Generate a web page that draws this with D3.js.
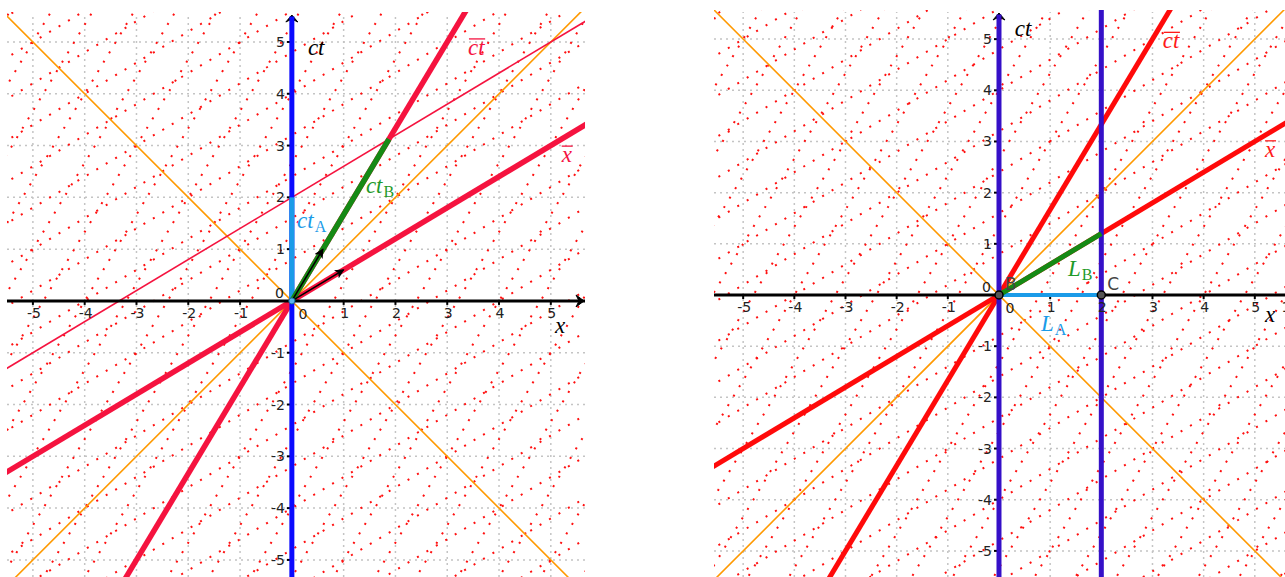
<!DOCTYPE html>
<html>
<head>
<meta charset="utf-8">
<script src="https://cdn.jsdelivr.net/npm/d3@7"></script>
<style>
  body { margin: 0; background: #fff; }
  svg { display: block; }
</style>
</head>
<body>
<svg id="chart" width="1285" height="577"></svg>
<script>
// values
const ticks = [-5, -4, -3, -2, -1, 1, 2, 3, 4, 5];
const beta = 0.6;               // slope of the x-bar axis
const primedUnit = 0.8;         // spacing of the moving-frame grid (1/gamma)
const primedLines = d3.range(-14, 15);
const cones = [1, -1];
const unitVectors = [[0.6, 1], [1, 0.6]];
const ctA = [[0, 0], [0, 2]];
const ctB = [[0, 0], [1.875, 3.125]];
const simultaneity = { through: [0, 2], slope: 0.6 };
const LA = [[0, 0], [2, 0]];
const LB = [[0, 0], [2, 1.2]];
const rods = [0, 2];
const events = [{ name: "B", x: 0, y: 0 }, { name: "C", x: 2, y: 0 }];

const svg = d3.select("#chart");
const far = 30;

function panel(id, box, xDom, yDom) {
  const x = d3.scaleLinear().domain(xDom).range([box.left, box.right]);
  const y = d3.scaleLinear().domain(yDom).range([box.bottom, box.top]);
  svg.append("clipPath").attr("id", "clip-" + id)
    .append("rect")
    .attr("x", box.left).attr("y", box.top - 2)
    .attr("width", box.right - box.left).attr("height", box.bottom - box.top + 2);
  const g = svg.append("g").attr("clip-path", `url(#clip-${id})`);

  const seg = (p, q, color, w, dash) => {
    const l = g.append("line")
      .attr("x1", x(p[0])).attr("y1", y(p[1]))
      .attr("x2", x(q[0])).attr("y2", y(q[1]))
      .attr("stroke", color).attr("stroke-width", w);
    if (dash) l.attr("stroke-dasharray", dash).attr("stroke-linecap", "butt");
    return l;
  };

  // gray unit grid
  ticks.forEach(t => {
    seg([t, yDom[0]], [t, yDom[1]], "#c4c4c4", 1.5, "2 4");
    seg([xDom[0], t], [xDom[1], t], "#c4c4c4", 1.5, "2 4");
  });

  // moving-frame grid, red dots
  primedLines.forEach(n => {
    const c = n * primedUnit;
    seg([-far, beta * -far + c], [far, beta * far + c], "#ff1010", 2, "2 9");
    seg([beta * -far + c, -far], [beta * far + c, far], "#ff1010", 2, "2 9");
  });

  // light cone
  cones.forEach(s => seg([-far, -far * s], [far, far * s], "#ff9900", 1.6));

  return { x, y, g, seg, xDom, yDom };
}

function axes(P) {
  const { x, y, g, seg, xDom, yDom } = P;
  seg([xDom[0], 0], [xDom[1], 0], "#000", 3);
  ticks.forEach(t => {
    g.append("line").attr("x1", x(t)).attr("x2", x(t))
      .attr("y1", y(0)).attr("y2", y(0) + 4).attr("stroke", "#000").attr("stroke-width", 2);
    g.append("line").attr("x1", x(0) - 5).attr("x2", x(0))
      .attr("y1", y(t)).attr("y2", y(t)).attr("stroke", "#000").attr("stroke-width", 2);
  });
  // top arrow of the ct axis
  const tx = x(0), ty = y(yDom[1]) + 1;
  g.append("path")
    .attr("d", `M${tx},${ty} L${tx - 6},${ty + 7} L${tx},${ty + 4} L${tx + 6},${ty + 7} Z`)
    .attr("fill", "#000").attr("stroke", "#000").attr("stroke-width", 1);
}

function tickLabels(P) {
  const { x, y, g } = P;
  const lab = (px, py, s, anchor) => g.append("text")
    .attr("x", px).attr("y", py).attr("text-anchor", anchor)
    .attr("font-family", "DejaVu Sans, sans-serif").attr("font-size", 14)
    .attr("fill", "#222").text(s);
  ticks.forEach(t => {
    const s = t < 0 ? "-" + Math.abs(t) : String(t);
    lab(x(t) + 1, y(0) + 17, s, "middle");
    lab(x(0) - 7, y(t) + 5, s, "end");
  });
  lab(x(0) - 8, y(0) - 3, "0", "end");
  lab(x(0) + 11, y(0) + 18, "0", "middle");
}

function mathLabel(P, d, text, opts) {
  const o = Object.assign({ color: "#000", sub: null, bar: false }, opts);
  const t = P.g.append("text")
    .attr("x", P.x(d[0])).attr("y", P.y(d[1]))
    .attr("fill", o.color)
    .attr("font-family", "Liberation Serif, DejaVu Serif, serif")
    .attr("font-style", "italic").attr("font-size", 23)
    .text(text);
  if (o.sub) {
    t.append("tspan").attr("font-style", "normal").attr("font-size", 16)
      .attr("dy", 4).attr("dx", 1).text(o.sub);
  }
  if (o.bar) {
    const b = t.node().getBBox();
    P.g.append("line")
      .attr("x1", b.x + 1).attr("x2", b.x + b.width)
      .attr("y1", P.y(d[1]) - 16).attr("y2", P.y(d[1]) - 16)
      .attr("stroke", o.color).attr("stroke-width", 1.3);
  }
}

// ---------- left panel ----------
const L = panel("left", { left: 7, right: 585, top: 14, bottom: 577 }, [-5.5, 5.66], [-5.33, 5.54]);
const crimson = "#f5133f";
L.seg([-far, simultaneity.through[1] - simultaneity.slope * far],
      [far, simultaneity.through[1] + simultaneity.slope * far], crimson, 1.6);
L.seg([-far, -beta * far], [far, beta * far], crimson, 5.5);
L.seg([-beta * far, -far], [beta * far, far], crimson, 5.5);
axes(L);
L.seg([0, L.yDom[0]], [0, L.yDom[1] - 0.05], "#0a0aff", 5);
L.seg(ctA[0], ctA[1], "#1a9be8", 5);
L.seg(ctB[0], ctB[1], "#158a15", 5.5);

svg.append("defs").append("marker")
  .attr("id", "head").attr("viewBox", "0 0 10 10")
  .attr("refX", 9).attr("refY", 5)
  .attr("markerWidth", 6).attr("markerHeight", 6).attr("orient", "auto")
  .append("path").attr("d", "M0,0 L10,5 L0,10 L2.5,5 Z").attr("fill", "#000");
unitVectors.forEach(v => {
  L.seg([0, 0], v, "#000", 1.6).attr("marker-end", "url(#head)");
});
// x-axis arrow
const ax = L.x(L.xDom[1]) - 1, ay = L.y(0);
L.g.append("path")
  .attr("d", `M${ax},${ay} L${ax - 8},${ay - 6} L${ax - 5},${ay} L${ax - 8},${ay + 6} Z`)
  .attr("fill", "#000").attr("stroke", "#000");
L.g.append("circle").attr("cx", L.x(0)).attr("cy", L.y(0)).attr("r", 3)
  .attr("fill", "#5ab6f0").attr("stroke", "#1a6fa0").attr("stroke-width", 1);

tickLabels(L);
mathLabel(L, [0.31, 4.75], "ct");
mathLabel(L, [3.4, 4.75], "ct", { color: crimson, bar: true });
mathLabel(L, [5.21, 2.68], "x", { color: crimson, bar: true });
mathLabel(L, [1.43, 2.08], "ct", { color: "#1f9a2a", sub: "B" });
mathLabel(L, [0.1, 1.41], "ct", { color: "#1a9be8", sub: "A" });
mathLabel(L, [5.08, -0.62], "x");

// ---------- right panel ----------
const R = panel("right", { left: 714, right: 1285, top: 12, bottom: 577 }, [-5.57, 5.59], [-5.51, 5.53]);
R.seg([-far, -beta * far], [far, beta * far], "#ff0a0a", 5);
R.seg([-beta * far, -far], [beta * far, far], "#ff0a0a", 5);
axes(R);
rods.forEach(r => R.seg([r, R.yDom[0]], [r, R.yDom[1] - (r === 0 ? 0.05 : -1)], "#3510c8", 5));
R.seg(LA[0], LA[1], "#1a9be8", 4);
R.seg(LB[0], LB[1], "#158a15", 5);
R.g.selectAll("circle.ev").data(events).enter().append("circle")
  .attr("class", "ev")
  .attr("cx", d => R.x(d.x)).attr("cy", d => R.y(d.y)).attr("r", 4)
  .attr("fill", "#555").attr("stroke", "#000").attr("stroke-width", 1.5);
R.g.selectAll("text.ev").data(events).enter().append("text")
  .attr("class", "ev")
  .attr("x", d => R.x(d.x) + 6).attr("y", d => R.y(d.y) - 5)
  .attr("font-family", "DejaVu Sans, sans-serif").attr("font-size", 17)
  .attr("fill", "#444").text(d => d.name);

tickLabels(R);
R.g.append("text").attr("x", R.x(5.52)).attr("y", R.y(0) + 17)
  .attr("font-family", "DejaVu Sans, sans-serif").attr("font-size", 14)
  .attr("fill", "#222").text("1");
mathLabel(R, [0.31, 5.06], "ct");
mathLabel(R, [3.2, 4.82], "ct", { color: "#ff1a1a", bar: true });
mathLabel(R, [5.2, 2.7], "x", { color: "#ff1a1a", bar: true });
mathLabel(R, [1.35, 0.37], "L", { color: "#1f9a2a", sub: "B" });
mathLabel(R, [0.82, -0.7], "L", { color: "#1a9be8", sub: "A" });
mathLabel(R, [5.2, -0.53], "x");
</script>
</body>
</html>
